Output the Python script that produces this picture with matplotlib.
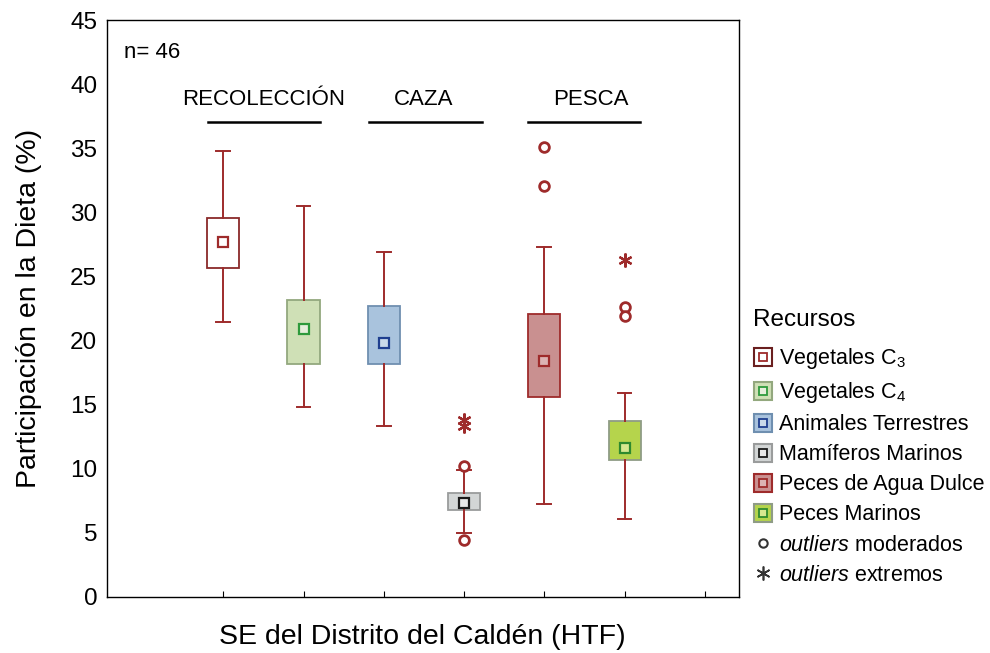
import matplotlib
matplotlib.use("Agg")
import matplotlib.pyplot as plt
from matplotlib.lines import Line2D
from matplotlib.ticker import FixedLocator

plt.rcParams["font.family"] = ["Liberation Sans", "DejaVu Sans"]
plt.rcParams["mathtext.fontset"] = "custom"
plt.rcParams["mathtext.rm"] = "Liberation Sans"
plt.rcParams["mathtext.it"] = "Liberation Sans:italic"
plt.rcParams["mathtext.bf"] = "Liberation Sans:bold"

# --- Datos ---
recursos = ["Vegetales C$_3$", "Vegetales C$_4$", "Animales Terrestres",
            "Mamíferos Marinos", "Peces de Agua Dulce", "Peces Marinos"]
posiciones = [1, 2, 3, 4, 5, 6]
whis_lo = [21.45, 14.8, 13.3, 5.0, 7.25, 6.1]
q1 = [25.7, 18.2, 18.2, 6.8, 15.6, 10.7]
centro = [27.7, 20.9, 19.8, 7.3, 18.4, 11.65]
q3 = [29.6, 23.2, 22.7, 8.1, 22.1, 13.75]
whis_hi = [34.8, 30.5, 26.9, 9.9, 27.3, 15.9]
out_moderados = [[], [], [], [10.2, 4.4], [35.1, 32.1], [22.6, 21.9]]
out_extremos = [[], [], [], [13.8, 13.3], [], [26.3]]

grupos = ["RECOLECCIÓN", "CAZA", "PESCA"]
grupo_x = [1.5, 3.5, 5.58]
grupo_lineas = [(0.81, 2.2), (2.81, 4.22), (4.8, 6.19)]

# --- Estilos ---
rojo = "#9e2b2b"
caras = ["#ffffff", "#cfe0b6", "#a9c3dd", "#d3d6d6", "#c99090", "#b5d44c"]
bordes = ["#8a2a2a", "#93a87e", "#6f8fb0", "#9a9c9c", "#9e2b2b", "#8f9c86"]
marcas = ["#9e2b2b", "#2e9a3c", "#1f3f8f", "#1a1a1a", "#9e2b2b", "#2e8a2e"]
marca_cara = ["#ffffff", "#e6efdc", "#c9d9ea", "#e8e8e8", "#dcb3b3", "#d7e88f"]

fig = plt.figure(figsize=(9.9, 6.53), dpi=100)
ax = fig.add_axes([0.108, 0.086, 0.638, 0.883])

stats = []
for i in range(len(posiciones)):
    stats.append({
        "whislo": whis_lo[i], "q1": q1[i], "med": centro[i], "q3": q3[i],
        "whishi": whis_hi[i], "fliers": out_moderados[i],
    })

bp = ax.bxp(stats, positions=posiciones, widths=0.4, capwidths=0.17,
            patch_artist=True, showfliers=True, zorder=2,
            whiskerprops=dict(color=rojo, linewidth=1.4),
            capprops=dict(color=rojo, linewidth=1.4),
            medianprops=dict(linewidth=0),
            flierprops=dict(marker="o", markersize=7, markerfacecolor="white",
                            markeredgecolor=rojo, markeredgewidth=2))

for i, caja in enumerate(bp["boxes"]):
    caja.set_facecolor(caras[i])
    caja.set_edgecolor(bordes[i])
    caja.set_linewidth(1.3)
    # cuadrado central
    ax.plot(posiciones[i], centro[i], marker="s", markersize=7,
            markerfacecolor=marca_cara[i], markeredgecolor=marcas[i],
            markeredgewidth=1.6, zorder=4)
    for v in out_extremos[i]:
        ax.plot(posiciones[i], v, marker=(6, 2, 0), markersize=10,
                markeredgecolor=rojo, markeredgewidth=1.6, zorder=4)

# --- Etiquetas de grupo ---
for nombre, gx, (x0, x1) in zip(grupos, grupo_x, grupo_lineas):
    ax.text(gx, 38.8, nombre, ha="center", va="center", fontsize=16)
    ax.plot([x0, x1], [37.05, 37.05], color="black", linewidth=1.8)

ax.text(0.027, 0.962, "n= 46", transform=ax.transAxes, ha="left", va="top",
        fontsize=16)

# --- Ejes ---
ax.set_xlim(-0.45, 7.42)
ax.set_ylim(0, 45)
ax.set_xticks([1, 2, 3, 4, 5, 6, 7])
ax.set_xticklabels([])
ax.tick_params(axis="x", direction="in", length=4, width=0.8)
ax.set_yticks(range(0, 46, 5))
ax.tick_params(axis="y", which="major", length=0, labelsize=17.5, pad=7)
ax.yaxis.set_minor_locator(FixedLocator([10, 20, 30, 40]))
ax.tick_params(axis="y", which="minor", direction="in", length=4, width=0.8,
               right=True)
for s in ax.spines.values():
    s.set_linewidth(1.0)

ax.set_ylabel("Participación en la Dieta (%)", fontsize=20.5, labelpad=20)
ax.set_xlabel("SE del Distrito del Caldén (HTF)", fontsize=20.5, labelpad=16)

# --- Leyenda ---
handles = []
for i in range(len(recursos)):
    grande = Line2D([], [], linestyle="none", marker="s", markersize=13,
                    markerfacecolor=caras[i], markeredgecolor=bordes[i] if i != 0 else "#6a1f1f",
                    markeredgewidth=1.5)
    chico = Line2D([], [], linestyle="none", marker="s", markersize=6,
                   markerfacecolor=marca_cara[i], markeredgecolor=marcas[i],
                   markeredgewidth=1.3)
    handles.append((grande, chico))
handles.append(Line2D([], [], linestyle="none", marker="o", markersize=6,
                      markerfacecolor="white", markeredgecolor="#333333",
                      markeredgewidth=1.5))
handles.append(Line2D([], [], linestyle="none", marker=(6, 2, 0), markersize=10,
                      markeredgecolor="#333333", markeredgewidth=1.2))
etiquetas = recursos + [r"$\mathit{outliers}$ moderados", r"$\mathit{outliers}$ extremos"]

leg = fig.legend(handles, etiquetas, loc="upper left",
                 bbox_to_anchor=(0.752, 0.54), frameon=False, fontsize=15.5,
                 title="Recursos", title_fontsize=17.5, alignment="left",
                 handlelength=0.9, handletextpad=0.3, labelspacing=0.42,
                 borderaxespad=0)
leg._legend_box.sep = 11

fig.savefig("out.png", dpi=100)
